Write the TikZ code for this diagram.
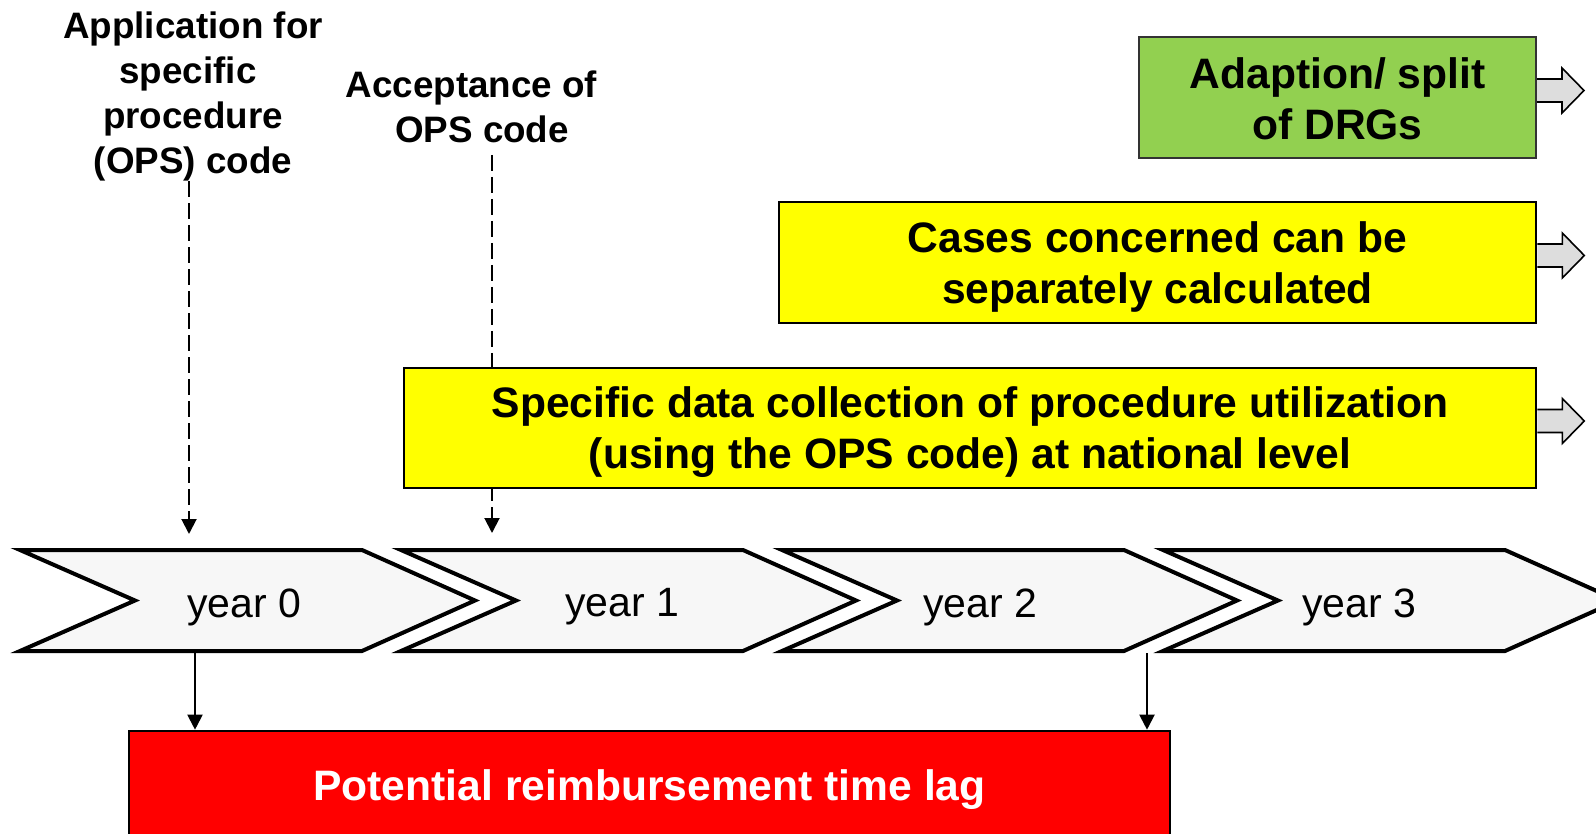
\documentclass[tikz,border=0pt]{standalone}
\usepackage{fontspec}
\setmainfont{Liberation Sans}
\usetikzlibrary{arrows.meta,backgrounds,calc}
\definecolor{chevfill}{HTML}{F7F7F7}
\definecolor{drggreen}{HTML}{92D050}
\definecolor{arrgray}{HTML}{DDDDDD}
\definecolor{boxyellow}{HTML}{FFFF00}
\definecolor{lagred}{HTML}{FF0000}
\begin{document}
\begin{tikzpicture}[x=0.5pt,y=-0.5pt,
  lbl/.style={align=center,font=\bfseries\fontsize{18.4}{22.5}\selectfont,inner sep=0pt},
  boxtxt/.style={draw=black,line width=1.3pt,align=center,font=\bfseries\fontsize{21.3}{25.5}\selectfont,inner sep=0pt},
  chev/.style={draw=black,line width=2pt,fill=chevfill},
  yr/.style={font=\fontsize{20.5}{24}\selectfont,inner sep=0pt},
  blockarr/.style={draw=black,line width=0.8pt,fill=arrgray},
  dasharr/.style={dash pattern=on 8pt off 3pt,line width=1pt,-{Triangle[width=7.5pt,length=7.5pt]}},
  solarr/.style={line width=1pt,-{Triangle[width=7.5pt,length=7.5pt]}}
]
\useasboundingbox (0,0) rectangle (1596,834);
\clip (0,0) rectangle (1596,834);

% chevrons (timeline)
\foreach \L in {20,401,782,1163}
  \draw[chev] (\L,550) -- ++(342,0) -- ++(113,50.5) -- ++(-113,50.5) -- ++(-342,0) -- ++(115,-50.5) -- cycle;

\node[yr] (y0) at (244,607) {year 0};
\node[yr] (y1) at (622,607) {year 1};
\node[yr] (y2) at (980,607) {year 2};
\node[yr] (y3) at (1359,607) {year 3};

% labels
\node[lbl] (app) at (193,96) {Application for\\specific\makebox[5pt]{}\\procedure\\(OPS) code};
\node[lbl] (acc) at (482,107) {Acceptance of\makebox[10.5pt]{}\\OPS code};

% boxes
\node[boxtxt,line width=1pt,draw=black!80,fill=drggreen,minimum width=198.5pt,minimum height=60.5pt] (drg) at (1337.5,97.5) {\rule{0pt}{17pt}Adaption/ split\\of DRGs};
\node[boxtxt,fill=boxyellow,minimum width=378.5pt,minimum height=60.5pt] (cases) at (1157.5,262.5) {\rule{0pt}{19.5pt}Cases concerned can be\\separately calculated};
\node[boxtxt,fill=boxyellow,minimum width=566pt,minimum height=60pt] (data) at (970,428) {\rule{0pt}{20pt}Specific data collection of procedure utilization\\(using the OPS code) at national level};
\node[boxtxt,fill=lagred,text=white,minimum width=520.5pt,minimum height=55pt] (lag) at (649.5,786) {\rule{0pt}{19.5pt}Potential reimbursement time lag};

% block arrows to the right
\foreach \n in {drg,cases,data}
  \draw[blockarr] ($(\n.east)+(0,-18.5)$) -- ++(25,0) -- ++(0,-11) -- ++(22,22.5) -- ++(-22,22.5) -- ++(0,-11) -- ++(-25,0);

% dashed arrows
\coordinate (apptip) at (189,534);
\coordinate (accstart) at (492,155);
\coordinate (acctip) at (492,533);
\draw[dasharr] (app.south -| apptip) -- (apptip);
\begin{scope}[on background layer]
  \draw[dasharr] (accstart) -- (acctip);
\end{scope}

% solid arrows to time lag box
\coordinate (lagL) at (195,653);
\coordinate (lagR) at (1147,653);
\draw[solarr] (lagL) -- (lagL |- lag.north);
\draw[solarr] (lagR) -- (lagR |- lag.north);
\end{tikzpicture}
\end{document}
